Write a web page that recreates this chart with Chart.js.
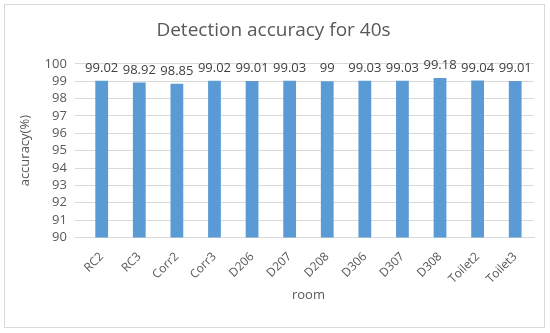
<!DOCTYPE html>
<html>
<head>
<meta charset="utf-8">
<script src="https://cdn.jsdelivr.net/npm/chart.js@4"></script>
<style>
  html, body { margin: 0; padding: 0; background: #fff; }
  #box {
    position: absolute; left: 4px; top: 4px;
    width: 539px; height: 322px;
    border: 1px solid #d9d9d9; background: #fff;
  }
</style>
</head>
<body>
<div id="box"><canvas id="chart" width="539" height="322"></canvas></div>
<script>
const rooms = ['RC2', 'RC3', 'Corr2', 'Corr3', 'D206', 'D207', 'D208', 'D306', 'D307', 'D308', 'Toilet2', 'Toilet3'];
const accuracy = [99.02, 98.92, 98.85, 99.02, 99.01, 99.03, 99, 99.03, 99.03, 99.18, 99.04, 99.01];
const yTicks = [90, 91, 92, 93, 94, 95, 96, 97, 98, 99, 100];

const fontFamily = '"Open Sans", "Liberation Sans", sans-serif';

// labels above each bar, placed from the bar element positions
const barLabels = {
  id: 'barLabels',
  afterDatasetsDraw(chart) {
    const ctx = chart.ctx;
    const meta = chart.getDatasetMeta(0);
    ctx.save();
    ctx.font = '13px ' + fontFamily;
    ctx.fillStyle = '#404040';
    ctx.textAlign = 'center';
    ctx.textBaseline = 'bottom';
    meta.data.forEach((bar, i) => {
      ctx.fillText(String(accuracy[i]), bar.x, bar.y - 6);
    });
    ctx.restore();
  }
};

new Chart(document.getElementById('chart'), {
  type: 'bar',
  data: {
    labels: rooms,
    datasets: [{
      data: accuracy,
      backgroundColor: '#5b9bd5',
      barPercentage: 0.34,
      categoryPercentage: 1
    }]
  },
  options: {
    responsive: false,
    animation: false,
    layout: { padding: { left: 8, right: 10, top: 6, bottom: 20 } },
    plugins: {
      legend: { display: false },
      tooltip: { enabled: false },
      title: {
        display: true,
        text: 'Detection accuracy for 40s',
        color: '#595959',
        font: { family: fontFamily, size: 19, weight: 'normal' },
        padding: { top: 8, bottom: 22 }
      }
    },
    scales: {
      x: {
        grid: { display: false },
        border: { color: '#d9d9d9' },
        afterFit(axis) { axis.height -= 3; },
        ticks: {
          color: '#595959',
          font: { family: fontFamily, size: 12 },
          minRotation: 45, maxRotation: 45,
          padding: 4
        },
        title: {
          display: true,
          text: 'room',
          color: '#595959',
          font: { family: fontFamily, size: 13 },
          padding: { top: 0 }
        }
      },
      y: {
        min: 90, max: 100,
        afterBuildTicks(axis) { axis.ticks = yTicks.map(v => ({ value: v })); },
        grid: { color: '#d9d9d9' },
        border: { display: false },
        ticks: {
          color: '#595959',
          font: { family: fontFamily, size: 13 },
          autoSkip: false,
          padding: 8
        },
        title: {
          display: true,
          text: 'accuracy(%)',
          color: '#595959',
          font: { family: fontFamily, size: 13 },
          padding: { bottom: 4 }
        }
      }
    }
  },
  plugins: [barLabels]
});
</script>
</body>
</html>
